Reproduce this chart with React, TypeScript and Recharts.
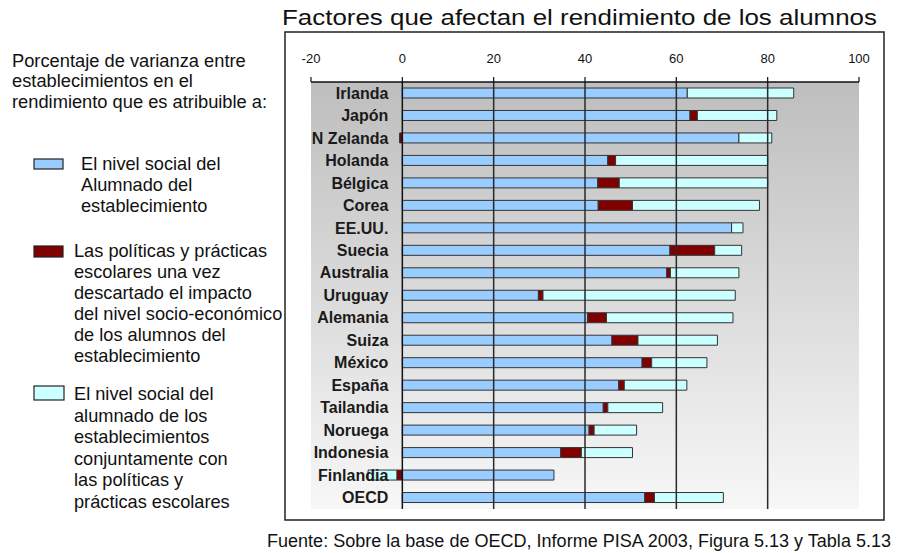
import React from "react";
import { BarChart, Bar, XAxis, YAxis, ReferenceLine, ReferenceArea, LabelList } from "recharts";

const countries = ["Irlanda", "Japón", "N Zelanda", "Holanda", "Bélgica", "Corea", "EE.UU.", "Suecia", "Australia", "Uruguay", "Alemania", "Suiza", "México", "España", "Tailandia", "Noruega", "Indonesia", "Finlandia", "OECD"];
const socialStudents = [62.4, 63.0, 73.7, 45.0, 42.8, 42.9, 72.1, 58.6, 57.9, 29.8, 40.6, 45.9, 52.5, 47.4, 44.0, 40.9, 34.7, 33.2, 53.1];
const policies = [0, 1.6, -0.6, 1.7, 4.7, 7.5, 0, 9.8, 0.8, 1.0, 4.1, 5.7, 2.1, 1.2, 1.0, 1.1, 4.5, -1.2, 2.1];
const jointEffect = [23.3, 17.4, 7.2, 33.3, 32.5, 27.8, 2.5, 5.9, 15.0, 42.1, 27.7, 17.4, 12.1, 13.7, 12.0, 9.3, 11.2, -6.3, 15.1];
const xTicks = [-20, 0, 20, 40, 60, 80, 100];
const gridValues = [20, 40, 60, 80];

const title = "Factores que afectan el rendimiento de los alumnos";
const source = "Fuente: Sobre la base de OECD, Informe PISA 2003, Figura 5.13 y Tabla 5.13";
const header = ["Porcentaje de varianza entre", "establecimientos en el", "rendimiento que es atribuible a:"];
const legendItems = [
  { color: "#99ccff", lines: ["El nivel social del", "Alumnado del", "establecimiento"] },
  { color: "#800000", lines: ["Las políticas y prácticas", "escolares una vez", "descartado el impacto", "del nivel socio-económico", "de los alumnos del", "establecimiento"] },
  { color: "#ccffff", lines: ["El nivel social del", "alumnado de los", "establecimientos", "conjuntamente con", "las políticas y", "prácticas escolares"] },
];

const data = countries.map((name, i) => ({
  name,
  social: socialStudents[i],
  policy: policies[i],
  joint: jointEffect[i],
}));

const FONT = "'Liberation Sans', Arial, sans-serif";

export default function App() {
  const legendLayout = [
    { sq: { x: 34, y: 159, w: 29, h: 10 }, tx: 81, y0: 170, dy: 21 },
    { sq: { x: 34, y: 246, w: 29, h: 11 }, tx: 74, y0: 257, dy: 20.9 },
    { sq: { x: 34, y: 386, w: 30, h: 14 }, tx: 74, y0: 400, dy: 21.5 },
  ];
  return (
    <div style={{ position: "absolute", left: 0, top: 0, width: 901, height: 553, background: "#fff", fontFamily: FONT }}>
      <svg width={901} height={553} style={{ position: "absolute", left: 0, top: 0 }}>
        <rect x={285} y={32} width={599} height={488} fill="none" stroke="#222" strokeWidth={1.5} />
        <text x={282} y={25} fontSize={22} fontFamily={FONT} fill="#111" textLength={595} lengthAdjust="spacingAndGlyphs">{title}</text>
        <text x={267} y={547} fontSize={17.5} fontFamily={FONT} fill="#111" textLength={624} lengthAdjust="spacingAndGlyphs">{source}</text>
        {header.map((l, i) => (
          <text key={i} x={12} y={66.5 + i * 20.5} fontSize={18.3} fontFamily={FONT} fill="#111">{l}</text>
        ))}
        {legendItems.map((it, k) => {
          const L = legendLayout[k];
          return (
            <g key={k}>
              <rect x={L.sq.x} y={L.sq.y} width={L.sq.w} height={L.sq.h} fill={it.color} stroke="#222" strokeWidth={1.2} />
              {it.lines.map((l, i) => (
                <text key={i} x={L.tx} y={L.y0 + i * L.dy} fontSize={18.2} fontFamily={FONT} fill="#111">{l}</text>
              ))}
            </g>
          );
        })}
      </svg>
      <div style={{ position: "absolute", left: 0, top: 0 }}>
        <BarChart
          width={901}
          height={553}
          data={data}
          layout="vertical"
          stackOffset="sign"
          barSize={10}
          margin={{ top: 52, right: 42, left: 311, bottom: 44 }}
        >
          <defs>
            <linearGradient id="bgGrad" x1="0" y1="0" x2="0" y2="1">
              <stop offset="0%" stopColor="#bebebe" />
              <stop offset="100%" stopColor="#f7f7f7" />
            </linearGradient>
          </defs>
          <XAxis
            type="number"
            orientation="top"
            domain={[-20, 100]}
            ticks={xTicks}
            height={30}
            tickSize={5}
            tickMargin={14}
            axisLine={{ stroke: "#111", strokeWidth: 1.5 }}
            tickLine={{ stroke: "#111", strokeWidth: 1.2 }}
            tick={{ fontSize: 13, fill: "#111", fontFamily: FONT }}
            allowDataOverflow
          />
          <YAxis type="category" dataKey="name" hide width={0} />
          <ReferenceArea x1={-20} x2={100} fill="url(#bgGrad)" fillOpacity={1} stroke="none" />
          {gridValues.map((v) => (
            <ReferenceLine key={v} x={v} stroke="#2a2a2a" strokeWidth={1.5} />
          ))}
          <ReferenceLine x={0} stroke="#111" strokeWidth={1.5} />
          <Bar dataKey="social" stackId="a" fill="#99ccff" stroke="#333" strokeWidth={1} isAnimationActive={false}>
            <LabelList dataKey="name" position="left" offset={14} fill="#1a1a1a" fontSize={16} fontWeight="bold" fontFamily={FONT} />
          </Bar>
          <Bar dataKey="policy" stackId="a" fill="#800000" stroke="#333" strokeWidth={1} isAnimationActive={false} />
          <Bar dataKey="joint" stackId="a" fill="#ccffff" stroke="#333" strokeWidth={1} isAnimationActive={false} />
        </BarChart>
      </div>
    </div>
  );
}
